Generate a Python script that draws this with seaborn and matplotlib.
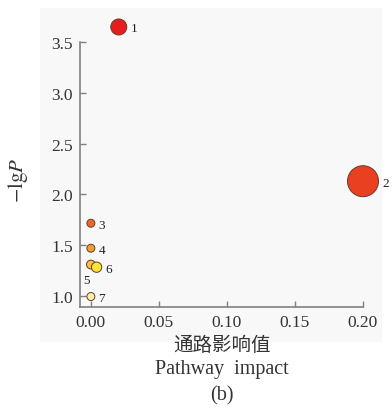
import numpy as np
import pandas as pd
import matplotlib
matplotlib.use("Agg")
import matplotlib.pyplot as plt
from matplotlib.patches import Rectangle
import seaborn as sns

# ---- data ----
labels = ["1", "2", "3", "4", "5", "6", "7"]
impact = [0.0205, 0.200, 0.0, 0.0, 0.0, 0.0042, 0.0]
neglogp = [3.648, 2.129, 1.715, 1.469, 1.308, 1.282, 0.993]
bubble = [133, 498, 33, 33, 40, 55, 33]
colors = ["#e41f1f", "#e94022", "#e96a28", "#f0a02c", "#f7c43c", "#f7e633", "#f8f0a2"]
xticks = [0.00, 0.05, 0.10, 0.15, 0.20]
yticks = [1.0, 1.5, 2.0, 2.5, 3.0, 3.5]

df = pd.DataFrame({"label": labels, "impact": impact, "p": neglogp, "size": bubble})

sns.set_style("white")
plt.rcParams["font.family"] = ["Liberation Serif", "Noto Sans CJK SC"]
plt.rcParams["mathtext.fontset"] = "stix"

W, H = 392, 410
fig = plt.figure(figsize=(W / 100, H / 100), dpi=100)
fig.patch.set_facecolor("white")
bg = Rectangle((40 / W, 1 - 343 / H), (382 - 40) / W, (343 - 9) / H,
               transform=fig.transFigure, facecolor="#f8f8f8",
               edgecolor="none", zorder=-10)
fig.patches.append(bg)

ax = fig.add_axes([80 / W, 1 - 308 / H, (363 - 80) / W, (308 - 43) / H])
ax.set_facecolor("none")
ax.set_zorder(1)

sns.scatterplot(data=df, x="impact", y="p", hue="label", palette=colors,
                size="size", sizes=(min(bubble), max(bubble)),
                edgecolor="#6a3a2a", linewidth=0.7, legend=False, ax=ax,
                clip_on=False, zorder=3)

ax.set_xlim(-0.008, 0.20)
ax.set_ylim(0.89, 3.5)
ax.set_xticks(xticks)
ax.set_xticklabels([f"{v:.2f}" for v in xticks])
ax.set_yticks(yticks)
ax.set_yticklabels([f"{v:.1f}" for v in yticks])

for s in ["top", "right"]:
    ax.spines[s].set_visible(False)
for s in ["left", "bottom"]:
    ax.spines[s].set_color("#808080")
    ax.spines[s].set_linewidth(1.2)
ax.tick_params(bottom=True, left=True, direction="in", length=4, width=1.0,
               color="#808080", labelsize=12.5, labelcolor="#333333", pad=5)
ax.set_xlabel("")
ax.set_ylabel("")

# point labels
for lab, x, y, s in zip(labels, impact, neglogp, bubble):
    r = np.sqrt(s) / 2
    if lab == "5":
        ax.annotate(lab, (x, y), xytext=(-3, -11), textcoords="offset points",
                    ha="center", va="center", fontsize=9.5, color="#222222",
                    annotation_clip=False)
    else:
        ax.annotate(lab, (x, y), xytext=(r + 5, -1), textcoords="offset points",
                    ha="center", va="center", fontsize=9.5, color="#222222",
                    annotation_clip=False)

fig.text(222 / W, 1 - 346 / H, "通路影响值", ha="center", va="center",
         fontsize=14, color="#333333")
fig.text(222 / W, 1 - 370 / H, "Pathway  impact", ha="center", va="center",
         fontsize=14.5, color="#333333")
fig.text(222 / W, 1 - 396 / H, "(b)", ha="center", va="center",
         fontsize=14.5, color="#333333")
fig.text(18 / W, 1 - 180 / H, r"$-\mathrm{lg}P$", ha="center", va="center",
         rotation=90, fontsize=15, color="#333333")

fig.savefig("out.png", dpi=100)
